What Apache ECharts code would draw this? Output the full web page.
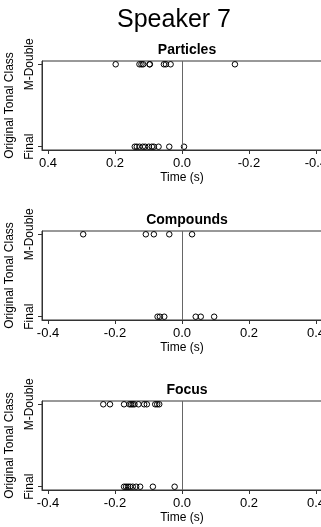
<!DOCTYPE html>
<html>
<head>
<meta charset="utf-8">
<script src="https://cdn.jsdelivr.net/npm/echarts@6/dist/echarts.min.js"></script>
<style>
html,body{margin:0;padding:0;background:#fff;}
#chart{width:321px;height:527px;}
</style>
</head>
<body>
<div id="chart"></div>
<script>
// ---- data (seconds) ----
var mainTitle = 'Speaker 7';
var panelTitles = ['Particles', 'Compounds', 'Focus'];
var yCategories = ['Final', 'M-Double'];   // y = 1, 2
var xTicks = [-0.4, -0.2, 0, 0.2, 0.4];

var particlesMDouble = [0.198, 0.127, 0.121, 0.116, 0.097, 0.096, 0.054, 0.048, 0.034, -0.158];
var particlesFinal   = [0.141, 0.135, 0.127, 0.117, 0.110, 0.099, 0.090, 0.084, 0.070, 0.038, -0.006];

var compoundsMDouble = [-0.295, -0.108, -0.084, -0.038, 0.030];
var compoundsFinal   = [-0.073, -0.066, -0.053, 0.041, 0.056, 0.096];

var focusMDouble = [-0.235, -0.215, -0.173, -0.157, -0.152, -0.147, -0.142, -0.130, -0.113, -0.105, -0.080, -0.074, -0.068];
var focusFinal   = [-0.173, -0.167, -0.161, -0.155, -0.147, -0.137, -0.125, -0.087, -0.022];

var panels = [
  {md: particlesMDouble, fi: particlesFinal, inverse: true},
  {md: compoundsMDouble, fi: compoundsFinal, inverse: false},
  {md: focusMDouble, fi: focusFinal, inverse: false}
];

var FONT = '"Liberation Sans", Arial, sans-serif';
var gridTops = [61, 231, 401];
var gridH = 89;

var option = {
  animation: false,
  backgroundColor: '#fff',
  title: [{
    text: mainTitle, left: 169, top: 3, textAlign: 'center',
    textStyle: {fontFamily: FONT, fontSize: 25, fontWeight: 'normal', color: '#000'}
  }],
  grid: [], xAxis: [], yAxis: [], series: []
};

panels.forEach(function (p, i) {
  option.title.push({
    text: panelTitles[i], left: 182, top: gridTops[i] - 23, textAlign: 'center',
    textStyle: {fontFamily: FONT, fontSize: 14, fontWeight: 'bold', color: '#000'}
  });
  option.grid.push({
    left: 42, width: 280, top: gridTops[i], height: gridH,
    containLabel: false, outerBoundsMode: 'none',
    show: true, borderColor: '#333', borderWidth: 1, backgroundColor: 'transparent'
  });
  option.xAxis.push({
    gridIndex: i, type: 'value', min: -0.418, max: 0.418, inverse: p.inverse,
    name: 'Time (s)', nameLocation: 'middle', nameGap: 22,
    nameTextStyle: {fontFamily: FONT, fontSize: 12, color: '#000'},
    axisLine: {show: true, onZero: false, lineStyle: {color: '#333', width: 1}},
    axisTick: {show: true, length: 4, customValues: xTicks, lineStyle: {color: '#333'}},
    axisLabel: {
      customValues: xTicks, margin: 7, fontFamily: FONT, fontSize: 13, color: '#000',
      hideOverlap: false,
      formatter: function (v) { return Number(v).toFixed(1); }
    },
    splitLine: {show: false}
  });
  option.yAxis.push({
    gridIndex: i, type: 'value', min: 0.96, max: 2.04,
    name: 'Original Tonal Class', nameLocation: 'middle', nameGap: 16, nameRotate: 90,
    nameTextStyle: {fontFamily: FONT, fontSize: 12, color: '#000'},
    axisLine: {show: true, onZero: false, lineStyle: {color: '#333', width: 1}},
    axisTick: {show: true, length: 4, customValues: [1, 2], lineStyle: {color: '#333'}},
    axisLabel: {
      customValues: [1, 2], rotate: 90, margin: 6, fontFamily: FONT, fontSize: 12, color: '#000',
      formatter: function (v) { return yCategories[Math.round(v) - 1]; }
    },
    splitLine: {show: false}
  });
  var pts = p.md.map(function (x) { return [x, 2]; })
    .concat(p.fi.map(function (x) { return [x, 1]; }));
  option.series.push({
    type: 'scatter', xAxisIndex: i, yAxisIndex: i, data: pts,
    symbol: 'circle', symbolSize: 5.5,
    itemStyle: {color: 'rgba(255,255,255,0)', borderColor: '#000', borderWidth: 1, opacity: 1},
    markLine: {
      silent: true, symbol: 'none', animation: false,
      label: {show: false},
      lineStyle: {color: '#666', width: 1, type: 'solid'},
      data: [{xAxis: 0}]
    }
  });
});

var chart = echarts.init(document.getElementById('chart'), null, {renderer: 'canvas'});
chart.setOption(option);
</script>
</body>
</html>
